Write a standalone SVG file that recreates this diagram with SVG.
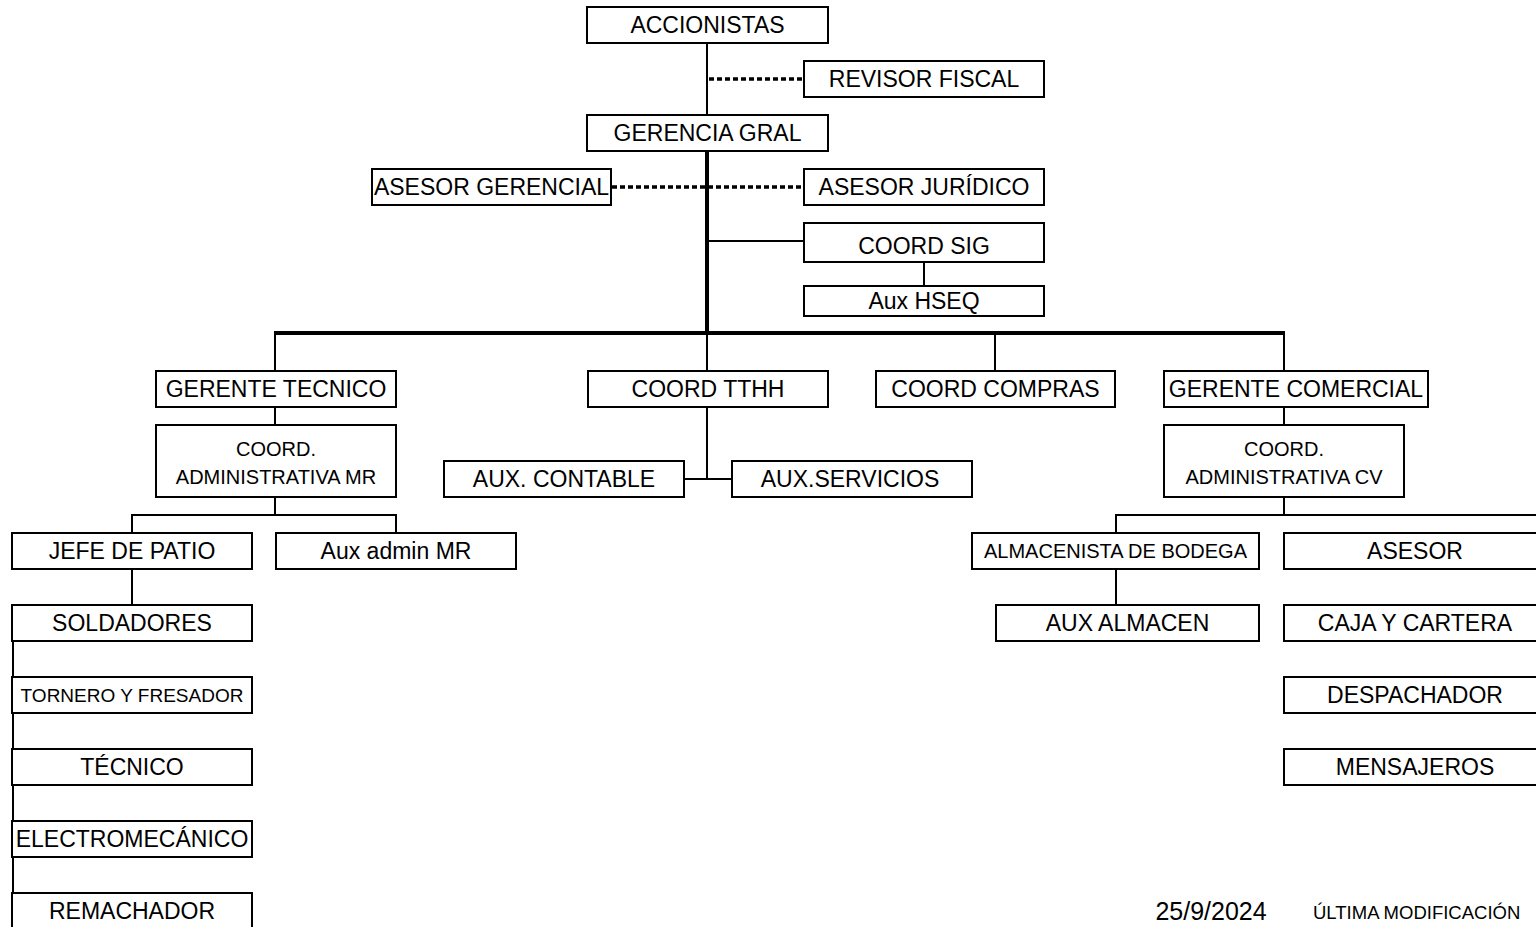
<svg xmlns="http://www.w3.org/2000/svg" width="1536" height="927" viewBox="0 0 1536 927">
<style>
  .box { fill: #ffffff; stroke: #000000; stroke-width: 2; }
  .t { font-family: "Liberation Sans", Arial, sans-serif; font-size: 23px; fill: #000000; text-anchor: middle; }
  .s { font-family: "Liberation Sans", Arial, sans-serif; font-size: 19px; fill: #000000; text-anchor: middle; }
  .s2 { font-family: "Liberation Sans", Arial, sans-serif; font-size: 20px; fill: #000000; text-anchor: middle; }
  .foot { font-family: "Liberation Sans", Arial, sans-serif; font-size: 18.5px; fill: #000000; }
  .ln { stroke: #000000; stroke-width: 2; fill: none; }
  .thick { stroke: #000000; stroke-width: 4; fill: none; }
  .dot { stroke: #000000; stroke-width: 3.5; fill: none; stroke-dasharray: 5 3; }
</style>
<rect width="1536" height="927" fill="#ffffff"/>
<g id="connectors">
  <line class="ln" x1="707" y1="43" x2="707" y2="115"/>
  <line class="dot" x1="709" y1="79" x2="803" y2="79"/>
  <line class="thick" x1="707" y1="151" x2="707" y2="335"/>
  <line class="dot" x1="612" y1="187" x2="803" y2="187"/>
  <line class="ln" x1="707" y1="241" x2="804" y2="241"/>
  <line class="ln" x1="924" y1="262" x2="924" y2="286"/>
  <line class="thick" x1="274" y1="333" x2="1285" y2="333"/>
  <line class="ln" x1="275" y1="333" x2="275" y2="371"/>
  <line class="ln" x1="707" y1="333" x2="707" y2="371"/>
  <line class="ln" x1="995" y1="333" x2="995" y2="371"/>
  <line class="ln" x1="1284" y1="333" x2="1284" y2="371"/>
  <line class="ln" x1="275" y1="407" x2="275" y2="425"/>
  <line class="ln" x1="275" y1="497" x2="275" y2="515"/>
  <polyline class="ln" points="132,533 132,515 396,515 396,533"/>
  <line class="ln" x1="132" y1="569" x2="132" y2="605"/>
  <line class="ln" x1="13" y1="641" x2="13" y2="927"/>
  <line class="ln" x1="707" y1="407" x2="707" y2="479"/>
  <line class="ln" x1="684" y1="479" x2="732" y2="479"/>
  <line class="ln" x1="1284" y1="407" x2="1284" y2="425"/>
  <line class="ln" x1="1284" y1="497" x2="1284" y2="515"/>
  <polyline class="ln" points="1116,533 1116,515 1540,515"/>
  <line class="ln" x1="1116" y1="569" x2="1116" y2="605"/>
</g>
<g id="n-accionistas"><rect class="box" x="587" y="7" width="241" height="36"/><text class="t" x="707.5" y="33">ACCIONISTAS</text></g>
<g id="n-revisor"><rect class="box" x="804" y="61" width="240" height="36"/><text class="t" x="924" y="87">REVISOR FISCAL</text></g>
<g id="n-gerencia"><rect class="box" x="587" y="115" width="241" height="36"/><text class="t" x="707.5" y="141">GERENCIA GRAL</text></g>
<g id="n-asesor-gerencial"><rect class="box" x="372" y="169" width="239" height="36"/><text class="t" x="491.5" y="195">ASESOR GERENCIAL</text></g>
<g id="n-asesor-juridico"><rect class="box" x="804" y="169" width="240" height="36"/><text class="t" x="924" y="195">ASESOR JURÍDICO</text></g>
<g id="n-coord-sig"><rect class="box" x="804" y="223" width="240" height="39"/><text class="t" x="924" y="254">COORD SIG</text></g>
<g id="n-aux-hseq"><rect class="box" x="804" y="286" width="240" height="30"/><text class="t" x="924" y="309">Aux HSEQ</text></g>
<g id="n-gerente-tecnico"><rect class="box" x="156" y="371" width="240" height="36"/><text class="t" x="276" y="397">GERENTE TECNICO</text></g>
<g id="n-coord-tthh"><rect class="box" x="588" y="371" width="240" height="36"/><text class="t" x="708" y="397">COORD TTHH</text></g>
<g id="n-coord-compras"><rect class="box" x="876" y="371" width="239" height="36"/><text class="t" x="995.5" y="397">COORD COMPRAS</text></g>
<g id="n-gerente-comercial"><rect class="box" x="1164" y="371" width="264" height="36"/><text class="t" x="1296" y="397">GERENTE COMERCIAL</text></g>
<g id="n-coord-admin-mr"><rect class="box" x="156" y="425" width="240" height="72"/><text class="s2" x="276" y="456">COORD.</text><text class="s2" x="276" y="484">ADMINISTRATIVA MR</text></g>
<g id="n-coord-admin-cv"><rect class="box" x="1164" y="425" width="240" height="72"/><text class="s2" x="1284" y="456">COORD.</text><text class="s2" x="1284" y="484">ADMINISTRATIVA CV</text></g>
<g id="n-aux-contable"><rect class="box" x="444" y="461" width="240" height="36"/><text class="t" x="564" y="487">AUX. CONTABLE</text></g>
<g id="n-aux-servicios"><rect class="box" x="732" y="461" width="240" height="36"/><text class="t" x="850" y="487">AUX.SERVICIOS</text></g>
<g id="n-jefe-patio"><rect class="box" x="12" y="533" width="240" height="36"/><text class="t" x="132" y="559">JEFE DE PATIO</text></g>
<g id="n-aux-admin-mr"><rect class="box" x="276" y="533" width="240" height="36"/><text class="t" x="396" y="559">Aux admin MR</text></g>
<g id="n-almacenista"><rect class="box" x="972" y="533" width="287" height="36"/><text class="s2" x="1115.5" y="558">ALMACENISTA DE BODEGA</text></g>
<g id="n-asesor"><rect class="box" x="1284" y="533" width="262" height="36"/><text class="t" x="1415" y="559">ASESOR</text></g>
<g id="n-aux-almacen"><rect class="box" x="996" y="605" width="263" height="36"/><text class="t" x="1127.5" y="631">AUX ALMACEN</text></g>
<g id="n-caja"><rect class="box" x="1284" y="605" width="262" height="36"/><text class="t" x="1415" y="631">CAJA Y CARTERA</text></g>
<g id="n-despachador"><rect class="box" x="1284" y="677" width="262" height="36"/><text class="t" x="1415" y="703">DESPACHADOR</text></g>
<g id="n-mensajeros"><rect class="box" x="1284" y="749" width="262" height="36"/><text class="t" x="1415" y="775">MENSAJEROS</text></g>
<g id="n-soldadores"><rect class="box" x="12" y="605" width="240" height="36"/><text class="t" x="132" y="631">SOLDADORES</text></g>
<g id="n-tornero"><rect class="box" x="12" y="677" width="240" height="36"/><text class="s" x="132" y="702">TORNERO Y FRESADOR</text></g>
<g id="n-tecnico"><rect class="box" x="12" y="749" width="240" height="36"/><text class="t" x="132" y="775">TÉCNICO</text></g>
<g id="n-electromecanico"><rect class="box" x="12" y="821" width="240" height="36"/><text class="t" x="132" y="847">ELECTROMECÁNICO</text></g>
<g id="n-remachador"><rect class="box" x="12" y="893" width="240" height="40"/><text class="t" x="132" y="919">REMACHADOR</text></g>
<g id="footer">
  <text class="t" x="1211" y="920" style="font-size:25px">25/9/2024</text>
  <text class="foot" x="1313" y="919">ÚLTIMA MODIFICACIÓN</text>
</g>
</svg>
